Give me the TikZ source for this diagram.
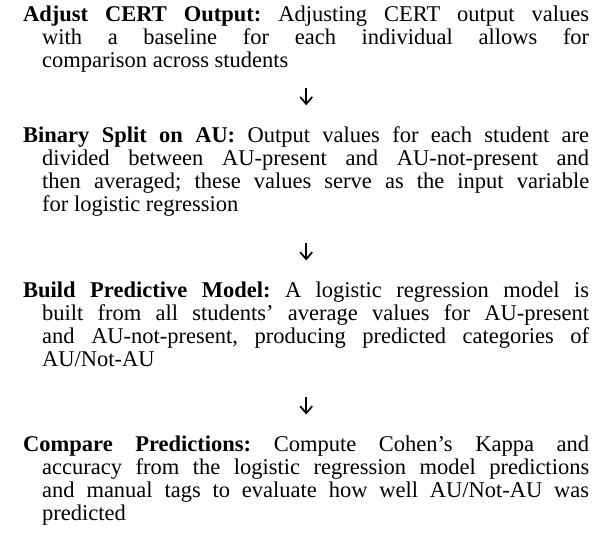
\documentclass[tikz,border=0pt]{standalone}
\usepackage{fontspec}
\setmainfont{Liberation Serif}
\usetikzlibrary{arrows.meta}

\tikzset{
  stage/.style={anchor=base west, inner sep=0pt, text width=566pt, align=justify,
    font=\fontsize{22.5}{22.8}\selectfont\frenchspacing},
  flow/.style={-{Straight Barb[length=7pt,width=12pt]}, line width=1.7pt},
}
\newcommand{\stagehang}{\hangindent=19pt\hangafter=1 }

\begin{document}
\begin{tikzpicture}
  \useasboundingbox (0,0) rectangle (595pt,-537pt);
  \node[stage] (adjust) at (23pt,-22pt) {\stagehang\textbf{Adjust CERT Output:} Adjusting CERT output values\linebreak with a baseline for each individual allows for\linebreak comparison across students\par};
  \node[stage] (split) at (23pt,-143pt) {\stagehang\textbf{Binary Split on AU:} Output values for each student are\linebreak divided between AU-present and AU-not-present and\linebreak then averaged; these values serve as the input variable\linebreak for logistic regression\par};
  \node[stage] (model) at (23pt,-298pt) {\stagehang\textbf{Build Predictive Model:} A logistic regression model is\linebreak built from all students' average values for AU-present\linebreak and AU-not-present, producing predicted categories of\linebreak AU/Not-AU\par};
  \node[stage] (compare) at (23pt,-452pt) {\stagehang\textbf{Compare Predictions:} Compute Cohen's Kappa and\linebreak accuracy from the logistic regression model predictions\linebreak and manual tags to evaluate how well AU/Not-AU was\linebreak predicted\par};

  \draw[flow, shorten <=15.5pt, shorten >=21.7pt] (adjust) -- (split);
  \draw[flow, shorten <=26.7pt, shorten >=21.7pt] (split) -- (model);
  \draw[flow, shorten <=30.2pt, shorten >=21.7pt] (model) -- (compare);
\end{tikzpicture}
\end{document}
